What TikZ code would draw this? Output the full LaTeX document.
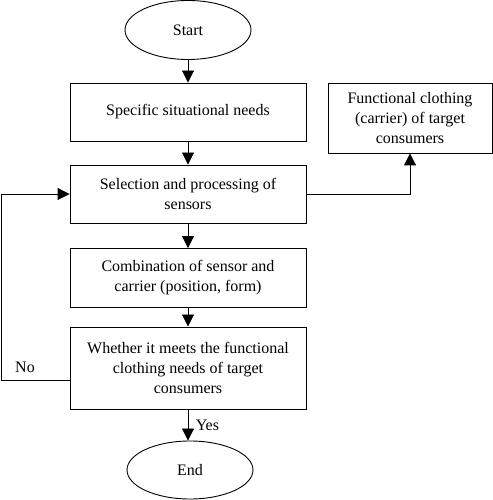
\documentclass[tikz,border=0pt]{standalone}
\usepackage{fontspec}
\setmainfont{Liberation Serif}
\usetikzlibrary{arrows.meta,shapes.geometric}

\begin{document}
\begin{tikzpicture}[x=1pt,y=1pt,line width=0.9pt,
	box/.style={draw,rectangle,minimum width=236pt,inner sep=0pt,align=center,font=\fontsize{16}{20}\selectfont},
	term/.style={draw,ellipse,minimum width=126pt,minimum height=59pt,inner sep=0pt,font=\fontsize{16}{20}\selectfont},
	flow/.style={-{Triangle[width=12pt,length=12pt]}}]
			\useasboundingbox (0,0) rectangle (492,500);
			\node[term] (start) at (188,470) {Start};
			\node[box,minimum height=58pt] (need) at (188,388) {Specific situational needs};
			\node[box,minimum height=58pt] (sel) at (188,306) {Selection and processing of\\sensors};
			\node[box,minimum height=59pt] (comb) at (188,222) {Combination of sensor and\\carrier (position, form)};
			\node[box,minimum height=82pt] (meet) at (188,132) {Whether it meets the functional\\clothing needs of target\\consumers};
			\node[term,minimum height=58pt] (end) at (190,30) {End};
			\node[box,minimum width=164pt,minimum height=70pt] (carrier) at (410,382) {Functional clothing\\(carrier) of target\\consumers};
			\coordinate (fb) at (1,120);
			\draw[flow] (start) -- (need);
			\draw[flow] (need) -- (sel);
			\draw[flow] (sel) -- (comb);
			\draw[flow] (comb) -- (meet);
			\draw[flow] (meet.south) -- (meet.south |- end.north) node[midway,right=4pt,font=\fontsize{16}{20}\selectfont] (yes) {Yes};
			\draw[flow] (sel.east) -| (carrier.south);
			\draw[flow] (meet.west |- fb) -- (fb) |- (sel.west);
			\node[font=\fontsize{16}{20}\selectfont] (no) at (25,133) {No};
\end{tikzpicture}
\end{document}
